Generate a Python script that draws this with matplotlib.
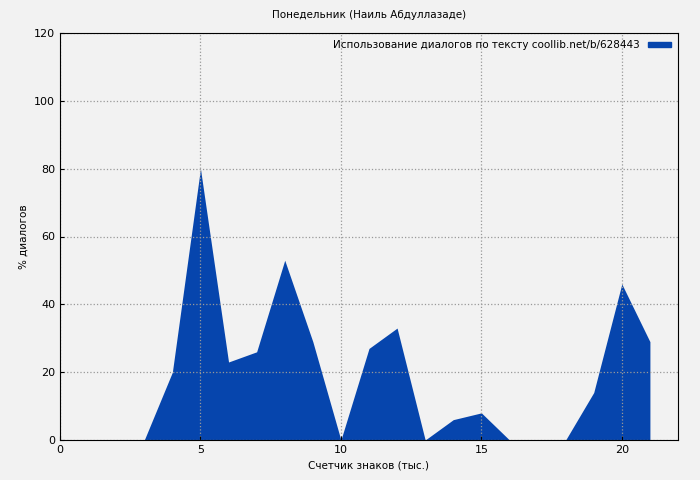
import matplotlib.pyplot as plt
from matplotlib.patches import Patch

x = list(range(0, 22))
y = [0, 0, 0, 0, 20, 80, 23, 26, 53, 29, 0, 27, 33, 0, 6, 8, 0, 0, 0, 14, 46, 29]

fig = plt.figure(figsize=(7, 4.8), dpi=100, facecolor='#f2f2f2')
ax = fig.add_axes([60/700, 1-440/480, 618/700, 407/480])
ax.set_facecolor('#f2f2f2')
ax.fill_between(x, y, 0, color='#0645ad', lw=0,
                label='Использование диалогов по тексту coollib.net/b/628443')
ax.set_xlim(0, 22)
ax.set_ylim(0, 120)
ax.set_xticks([0, 5, 10, 15, 20])
ax.set_yticks(range(0, 121, 20))
ax.grid(True, color='#999999', linestyle=':', linewidth=0.9)
ax.tick_params(labelsize=8, direction='in', length=3)
ax.set_xlabel('Счетчик знаков (тыс.)', fontsize=7.5)
ax.set_ylabel('% диалогов', fontsize=7.5)
ax.set_title('Понедельник (Наиль Абдуллазаде)', fontsize=7.5, pad=11)
h = [Patch(color='#0645ad')]
ax.legend(h, ['Использование диалогов по тексту coollib.net/b/628443'], loc='upper right',
          fontsize=7.5, frameon=False, handlelength=2.2, handleheight=0.35,
          markerfirst=False, borderaxespad=0.3)
fig.savefig('out.png', dpi=100, facecolor='#f2f2f2')
